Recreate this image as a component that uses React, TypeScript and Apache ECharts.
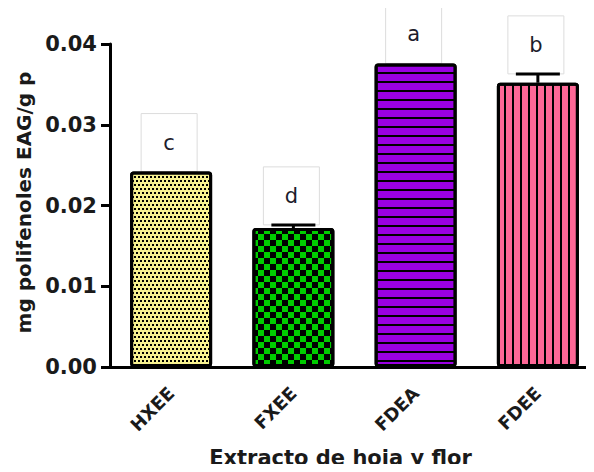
import React, { useEffect, useRef } from "react";
import * as echarts from "echarts";

const categories = ["HXEE", "FXEE", "FDEA", "FDEE"];
const means = [0.0242, 0.0172, 0.0376, 0.0352];
const errors = [0, 0.0004, 0, 0.0011];
const letters = ["c", "d", "a", "b"];
const barColors = ["#f7f190", "#00cc00", "#9a00e2", "#fd6796"];
const yMin = 0;
const yMax = 0.04;
const yInterval = 0.01;

const FONT = "DejaVu Sans";

const decals: any[] = [
  { symbol: "rect", symbolSize: 1, color: "#000", dashArrayX: [[2, 2], [0, 2, 2, 0]], dashArrayY: [2, 2] },
  { symbol: "rect", symbolSize: 1, color: "#000", dashArrayX: [[6, 6], [0, 6, 6, 0]], dashArrayY: [6, 0] },
  { symbol: "rect", symbolSize: 1, color: "#000", dashArrayX: [1, 0], dashArrayY: [2, 7] },
  { symbol: "rect", symbolSize: 1, color: "#000", dashArrayX: [2, 6], dashArrayY: [1, 0] },
];

export default function App() {
  const ref = useRef<HTMLDivElement>(null);
  useEffect(() => {
    if (!ref.current) return;
    const chart = echarts.init(ref.current, null, { renderer: "svg" });
    const option: any = {
      animation: false,
      backgroundColor: "#fff",
      grid: { left: 110, top: 44, bottom: 105, width: 489, outerBoundsMode: "none", containLabel: false },
      xAxis: {
        type: "category",
        data: categories,
        name: "Extracto de hoja y flor",
        nameLocation: "middle",
        nameGap: 80,
        nameTextStyle: { fontFamily: FONT, fontSize: 21, fontWeight: "bold", color: "#1a1a1a", padding: [0, 28, 0, 0] },
        axisLine: { lineStyle: { color: "#000", width: 3 } },
        axisTick: { alignWithLabel: true, length: 9, lineStyle: { color: "#000", width: 3 } },
        axisLabel: { rotate: 45, fontFamily: FONT, fontSize: 18, fontWeight: "bold", color: "#1a1a1a", margin: 23 },
      },
      yAxis: {
        type: "value",
        min: yMin,
        max: yMax,
        interval: yInterval,
        name: "mg polifenoles EAG/g p",
        nameLocation: "middle",
        nameGap: 75,
        nameTextStyle: { fontFamily: FONT, fontSize: 20, fontWeight: "bold", color: "#1a1a1a", padding: [0, 0, 0, 6] },
        axisLine: { show: true, lineStyle: { color: "#000", width: 3 } },
        axisTick: { show: true, length: 9, lineStyle: { color: "#000", width: 3 } },
        axisLabel: {
          fontFamily: FONT, fontSize: 21, fontWeight: "bold", color: "#1a1a1a", margin: 13,
          formatter: (v: number) => v.toFixed(2),
        },
        splitLine: { show: false },
      },
      series: [
        {
          type: "custom",
          z: 1,
          data: means.map((m, i) => [i, m + errors[i], letters[i]]),
          renderItem: (params: any, api: any) => {
            const i = api.value(0);
            const pt = api.coord([i, api.value(1)]);
            return {
              type: "group",
              children: [
                {
                  type: "rect",
                  shape: { x: pt[0] - 30, y: pt[1] - 58, width: 56, height: 58 },
                  style: { fill: "#fff", stroke: "#dcdcdc", lineWidth: 1 },
                },
                {
                  type: "text",
                  x: pt[0] - 2,
                  y: pt[1] - 29,
                  style: {
                    text: letters[i],
                    fontFamily: FONT,
                    fontSize: 21,
                    fill: "#1c1c2c",
                    align: "center",
                    verticalAlign: "middle",
                  },
                },
              ],
            };
          },
        },
        {
          type: "bar",
          z: 2,
          barWidth: 82,
          data: means.map((m, i) => ({
            value: m,
            itemStyle: {
              color: barColors[i],
              borderColor: "#000",
              borderWidth: 3,
              borderRadius: 2,
              decal: decals[i],
            },
          })),
        },
        {
          type: "custom",
          z: 3,
          data: means.map((m, i) => [i, m, m + errors[i]]),
          renderItem: (params: any, api: any) => {
            const i = api.value(0);
            const lo = api.coord([i, api.value(1)]);
            const hi = api.coord([i, api.value(2)]);
            if (Math.abs(lo[1] - hi[1]) < 0.5) return { type: "group", children: [] };
            const style = { stroke: "#000", lineWidth: 3 };
            return {
              type: "group",
              children: [
                { type: "line", shape: { x1: lo[0], y1: lo[1], x2: hi[0], y2: hi[1] }, style },
                { type: "line", shape: { x1: hi[0] - 22, y1: hi[1], x2: hi[0] + 22, y2: hi[1] }, style },
              ],
            };
          },
        },
      ],
    };
    chart.setOption(option);
    return () => chart.dispose();
  }, []);
  return <div ref={ref} style={{ width: 594, height: 472, margin: -8 }} />;
}
